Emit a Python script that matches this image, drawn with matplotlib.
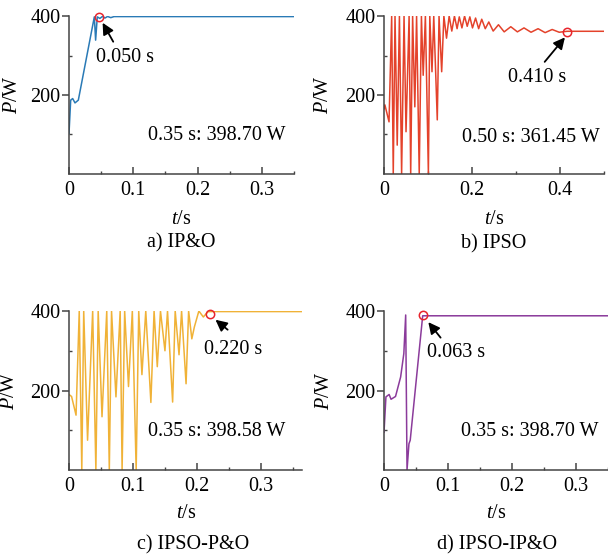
import matplotlib
matplotlib.use('Agg')
import matplotlib.pyplot as plt
from matplotlib.ticker import MultipleLocator, FuncFormatter

plt.rcParams['font.family'] = 'Liberation Serif'
plt.rcParams['font.size'] = 14.5
plt.rcParams['mathtext.fontset'] = 'custom'
plt.rcParams['mathtext.it'] = 'Liberation Serif:italic'
plt.rcParams['mathtext.rm'] = 'Liberation Serif'

# a) IP&O
t_a = [0, 0.0026, 0.0057, 0.0093, 0.0145, 0.0394, 0.0414, 0.044, 0.048, 0.052,
       0.056, 0.06, 0.065, 0.07, 0.08, 0.35]
p_a = [103, 187, 191, 180, 187, 398, 339, 398, 394, 399, 395, 399, 396, 398.7, 398.7, 398.7]

# b) IPSO
t_b = [0, 0.002, 0.0114, 0.0174, 0.021, 0.025, 0.030, 0.035, 0.040, 0.0455,
       0.050, 0.057, 0.0606, 0.065, 0.070, 0.074, 0.080, 0.085, 0.089, 0.094,
       0.1008, 0.104, 0.109, 0.113, 0.121, 0.125, 0.131, 0.136, 0.142, 0.148,
       0.154, 0.160, 0.166, 0.171, 0.177, 0.183, 0.189, 0.195, 0.201, 0.208,
       0.215, 0.222, 0.230, 0.238, 0.248, 0.260, 0.273, 0.288, 0.303, 0.318,
       0.334, 0.350, 0.366, 0.382, 0.398, 0.416, 0.5]
p_b = [165, 175, 132, 400, 0, 400, 73, 400, 0, 400,
       107, 400, 0, 400, 170, 400, 0, 400, 250, 400,
       0, 400, 259, 400, 137, 400, 259, 400, 344, 400,
       362, 400, 368, 398, 370, 400, 374, 398, 370, 395,
       368, 392, 368, 385, 362, 378, 360, 373, 360, 370,
       359, 368, 358, 366, 359, 361.45, 361.45]

# c) IPSO-P&O
t_c = [0, 0.004, 0.011, 0.016, 0.020, 0.023, 0.029, 0.037, 0.042, 0.0456,
       0.0516, 0.059, 0.063, 0.0665, 0.0734, 0.080, 0.083, 0.087, 0.093, 0.099,
       0.105, 0.109, 0.114, 0.120, 0.128, 0.133, 0.138, 0.143, 0.150, 0.154,
       0.162, 0.166, 0.172, 0.176, 0.183, 0.187, 0.192, 0.196, 0.203, 0.210,
       0.217, 0.221, 0.365]
p_c = [190, 185, 138, 400, 0, 400, 75, 400, 0, 400,
       134, 400, 0, 400, 184, 400, 0, 400, 210, 400,
       0, 400, 240, 400, 170, 400, 260, 400, 300, 400,
       171, 400, 290, 400, 217, 400, 330, 360, 400, 385,
       398, 398.58, 398.58]

# d) IPSO-IP&O
t_d = [0, 0.003, 0.008, 0.011, 0.018, 0.026, 0.031, 0.0339, 0.036, 0.039,
       0.041, 0.0605, 0.35]
p_d = [95, 184, 190, 178, 185, 234, 293, 390, 0, 66,
       75, 388, 388]

series = [t_a, t_b, t_c, t_d]
values = [p_a, p_b, p_c, p_d]
colors = ['#2a7ab6', '#e4422b', '#f0b237', '#8b3b9b']
xmax = [0.35, 0.5, 0.365, 0.35]
xmajor = [0.1, 0.2, 0.1, 0.1]
xminor = [0.05, 0.1, 0.05, 0.05]
captions = ['a) IP&O', 'b) IPSO', 'c) IPSO-P&O', 'd) IPSO-IP&O']
# marked point (circle), arrow tail/head, arrow label
mark_t = [0.046, 0.416, 0.221, 0.0615]
mark_p = [398, 360, 393, 389]
mark_txt = ['0.050 s', '0.410 s', '0.220 s', '0.063 s']
txt_pos = [(0.042, 295), (0.282, 244), (0.211, 303), (0.0667, 296)]
arr_tail = [(0.0688, 335), (0.365, 284), (0.248, 353), (0.0885, 333)]
arr_head = [(0.0523, 383), (0.411, 346), (0.229, 378), (0.0693, 372)]
end_txt = ['0.35 s: 398.70 W', '0.50 s: 361.45 W', '0.35 s: 398.58 W', '0.35 s: 398.70 W']
end_pos = [(0.337, 97), (0.489, 92), (0.339, 98), (0.336, 96)]

# axes boxes in figure fraction
boxes = [[0.1135, 0.686, 0.370, 0.285],
         [0.6316, 0.686, 0.362, 0.285],
         [0.1135, 0.1516, 0.384, 0.287],
         [0.6316, 0.1516, 0.368, 0.287]]
ylab_x = [-0.21, -0.23, -0.215, -0.225]
cap_xy = [(181, 243), (494, 244), (193, 545), (497, 545)]
xlab_y = [219, 220, 514, 514]


def fmt(v, pos):
    if abs(v) < 1e-9:
        return '0'
    return '%g' % v


fig = plt.figure(figsize=(6.08, 5.54), dpi=100)
for i in range(4):
    ax = fig.add_axes(boxes[i])
    ax.plot(series[i], values[i], color=colors[i], lw=1.1)
    ax.plot(mark_t[i], mark_p[i], 'o', mfc='none', mec='#e8242c', ms=6, mew=1.1, clip_on=False)
    ax.annotate('', xy=arr_head[i], xytext=arr_tail[i],
                arrowprops=dict(arrowstyle='-|>', color='k', lw=1.3, mutation_scale=17,
                                shrinkA=0, shrinkB=0))
    ax.text(txt_pos[i][0], txt_pos[i][1], mark_txt[i], ha='left', va='center')
    ax.text(end_pos[i][0], end_pos[i][1], end_txt[i], ha='right', va='center')
    ax.set_xlim(0, xmax[i])
    ax.set_ylim(0, 400)
    for s in ['top', 'right']:
        ax.spines[s].set_visible(False)
    for s in ['left', 'bottom']:
        ax.spines[s].set_color('#444444')
        ax.spines[s].set_linewidth(1.1)
    ax.xaxis.set_major_locator(MultipleLocator(xmajor[i]))
    ax.xaxis.set_minor_locator(MultipleLocator(xminor[i]))
    ax.xaxis.set_major_formatter(FuncFormatter(fmt))
    ax.set_yticks([200, 400])
    ax.set_yticks([100, 300], minor=True)
    ax.tick_params(axis='x', which='major', direction='in', length=5, width=1.1,
                   color='#444444', pad=5)
    ax.tick_params(axis='x', which='minor', direction='in', length=2, width=1,
                   color='#444444')
    ax.tick_params(axis='y', which='major', direction='out', length=5, width=1.1,
                   color='#444444', pad=1)
    ax.tick_params(axis='y', which='minor', direction='in', length=2, width=1,
                   color='#444444')
    ax.set_ylabel(r'$P$/W')
    ax.yaxis.set_label_coords(ylab_x[i], 0.5)
    # x label and caption placed by figure pixel position of their centres
    b = boxes[i]
    fig.text(b[0] + b[2] / 2, 1 - xlab_y[i] / 554, r'$t$/s', ha='center', va='center')
    fig.text(cap_xy[i][0] / 608, 1 - cap_xy[i][1] / 554, captions[i],
             ha='center', va='center')

fig.savefig('out.png', dpi=100)
